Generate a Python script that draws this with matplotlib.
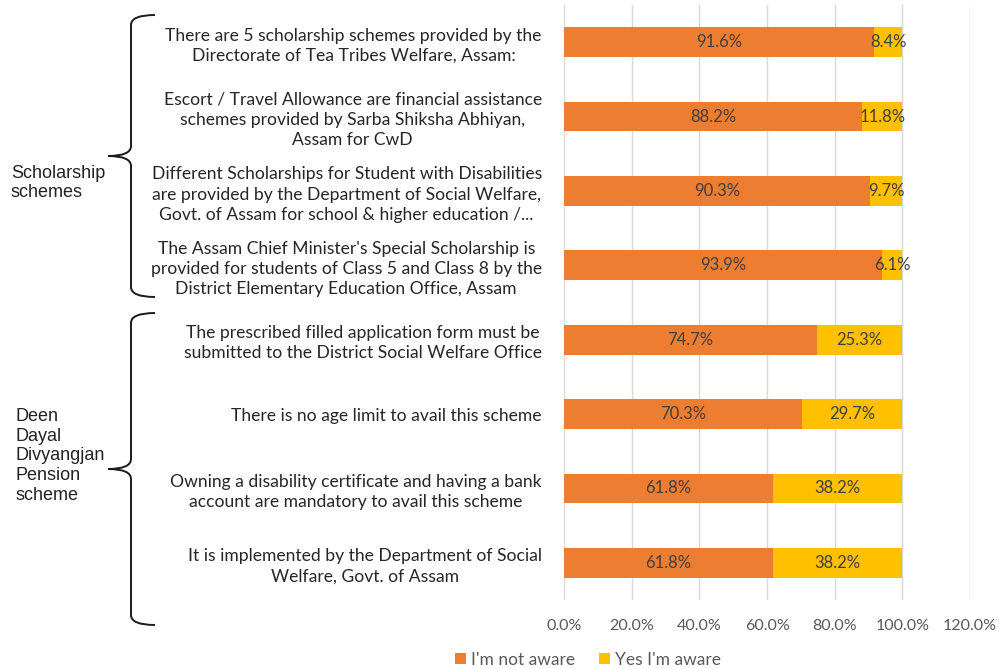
import matplotlib
matplotlib.use("Agg")
import matplotlib.pyplot as plt
import numpy as np
from matplotlib.path import Path
from matplotlib.patches import PathPatch
from matplotlib.transforms import Affine2D
from matplotlib.ticker import FuncFormatter

# statements shown on the y axis, top to bottom
statements = [
    "There are 5 scholarship schemes provided by the\nDirectorate of Tea Tribes Welfare, Assam:",
    "Escort / Travel Allowance are financial assistance\nschemes provided by Sarba Shiksha Abhiyan,\nAssam for CwD",
    "Different Scholarships for Student with Disabilities\nare provided by the Department of Social Welfare,\nGovt. of Assam for school & higher education /...",
    "The Assam Chief Minister's Special Scholarship is\nprovided for students of Class 5 and Class 8 by the\nDistrict Elementary Education Office, Assam",
    "The prescribed filled application form must be\nsubmitted to the District Social Welfare Office",
    "There is no age limit to avail this scheme",
    "Owning a disability certificate and having a bank\naccount are mandatory to avail this scheme",
    "It is implemented by the Department of Social\nWelfare, Govt. of Assam",
]
not_aware = [91.6, 88.2, 90.3, 93.9, 74.7, 70.3, 61.8, 61.8]
aware = [8.4, 11.8, 9.7, 6.1, 25.3, 29.7, 38.2, 38.2]
groups = ["Scholarship\nschemes", "Deen\nDayal\nDivyangjan\nPension\nscheme"]

W, H = 1003, 669
fig = plt.figure(figsize=(W / 100, H / 100), dpi=100)
ax = fig.add_axes([564 / W, 1 - 600 / H, 406 / W, 595 / H])

y = np.arange(len(statements))
b1 = ax.barh(y, not_aware, height=0.4, color="#ED7D31", label="I'm not aware", zorder=3)
b2 = ax.barh(y, aware, left=not_aware, height=0.4, color="#FFC000", label="Yes I'm aware", zorder=3)
for bars, vals in ((b1, not_aware), (b2, aware)):
    ax.bar_label(bars, labels=[f"{v:.1f}%" for v in vals], label_type="center",
                 color="#404040", fontsize=12, family="Lato")

ax.set_xlim(0, 120)
ax.set_xticks(np.arange(0, 121, 20))
ax.xaxis.set_major_formatter(FuncFormatter(lambda v, p: f"{v:.1f}%"))
ax.set_ylim(len(statements) - 0.5, -0.5)
ax.set_yticks(y)
ax.set_yticklabels(statements, fontsize=12.6, family="Lato", color="#262626",
                   multialignment="center", linespacing=1.32)
ax.tick_params(axis="y", length=0, pad=16)
ax.tick_params(axis="x", length=0, pad=14, labelsize=11.5, labelcolor="#595959")
for lbl in ax.get_xticklabels():
    lbl.set_family("Lato")
ax.grid(axis="x", color="#D9D9D9", lw=1, zorder=0)
for s in ax.spines.values():
    s.set_visible(False)

leg = fig.legend(loc="center", bbox_to_anchor=(588 / W, 1 - 660 / H), ncol=2, frameon=False,
                 prop={"family": "Lato", "size": 12.5}, handlelength=0.6, handleheight=0.6,
                 columnspacing=1.4, handletextpad=0.3)
for t in leg.get_texts():
    t.set_color("#595959")

# curly braces grouping the statements, drawn in pixel coordinates
px = Affine2D().scale(1 / W, -1 / H).translate(0, 1) + fig.transFigure


def brace(top, bottom, tip):
    xr, xl, xt = 155, 131, 108
    verts = [(xr, top), (xl, top), (xl, top + 10),
             (xl, tip - 10), (xl, tip), (xt, tip),
             (xl, tip), (xl, tip + 10),
             (xl, bottom - 10), (xl, bottom), (xr, bottom)]
    codes = [Path.MOVETO, Path.CURVE3, Path.CURVE3,
             Path.LINETO, Path.CURVE3, Path.CURVE3,
             Path.CURVE3, Path.CURVE3,
             Path.LINETO, Path.CURVE3, Path.CURVE3]
    fig.add_artist(PathPatch(Path(verts, codes), fill=False, lw=1.4,
                             edgecolor="#1a1a1a", transform=px))


brace(15, 297, 156)
brace(313, 625, 469)

fig.text(11 / W, 1 - 183 / H, groups[0], family="Liberation Sans", fontsize=13,
         va="center", ha="left", linespacing=1.2, color="#222222")
fig.text(16 / W, 1 - 456 / H, groups[1], family="Liberation Sans", fontsize=13,
         va="center", ha="left", linespacing=1.2, color="#222222")

fig.savefig("out.png", dpi=100)
